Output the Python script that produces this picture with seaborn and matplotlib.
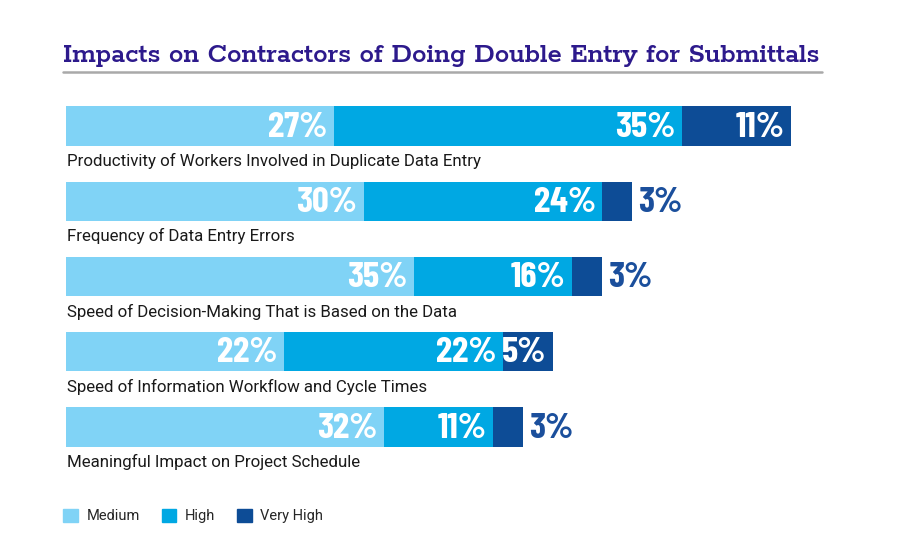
import matplotlib
matplotlib.use("Agg")
import matplotlib.pyplot as plt
from matplotlib.patches import Patch
from matplotlib.lines import Line2D
import seaborn as sns
import pandas as pd

categories = [
    "Productivity of Workers Involved in Duplicate Data Entry",
    "Frequency of Data Entry Errors",
    "Speed of Decision-Making That is Based on the Data",
    "Speed of Information Workflow and Cycle Times",
    "Meaningful Impact on Project Schedule",
]
medium = [27, 30, 35, 22, 32]
high = [35, 24, 16, 22, 11]
very_high = [11, 3, 3, 5, 3]
series_names = ["Medium", "High", "Very High"]
colors = ["#80d3f6", "#00a8e3", "#0d4c96"]
outside_color = "#1b4f9c"
title = "Impacts on Contractors of Doing Double Entry for Submittals"

sns.set_theme(style="white")
plt.rcParams["font.family"] = ["Roboto", "DejaVu Sans"]

num_family = ["Barlow Condensed", "Roboto Condensed", "DejaVu Sans"]
label_family = ["Roboto", "DejaVu Sans"]
title_family = ["Rokkitt", "DejaVu Serif"]

df = pd.DataFrame({
    "category": categories,
    "Medium": medium,
    "High": high,
    "Very High": very_high,
})
df["c1"] = df["Medium"]
df["c2"] = df["Medium"] + df["High"]
df["c3"] = df["c2"] + df["Very High"]

fig = plt.figure(figsize=(9, 5.5), dpi=100)
ax = fig.add_axes([66 / 900, 1 - 480 / 550, 834 / 900, (480 - 88) / 550])

for col, colr in zip(["c3", "c2", "c1"], colors[::-1]):
    sns.barplot(data=df, x=col, y="category", order=categories, orient="h",
                color=colr, width=0.52, saturation=1, errorbar=None,
                linewidth=0, ax=ax)

ax.set_xlim(0, 84)
ax.set_ylim(4.704, -0.505)
ax.axis("off")

pad = 0.65
for i, cat in enumerate(categories):
    ax.text(0.1, i + 0.465, cat, ha="left", va="center", fontsize=12.2,
            color="#1a1a1a", family=label_family)
    ends = [df.loc[i, "c1"], df.loc[i, "c2"], df.loc[i, "c3"]]
    vals = [medium[i], high[i], very_high[i]]
    for v, e in zip(vals, ends):
        if v >= 4:
            ax.text(e - pad, i + 0.02, f"{v}%", ha="right", va="center",
                    color="white", fontsize=26.5, weight="bold", family=num_family)
        else:
            ax.text(e + pad, i + 0.02, f"{v}%", ha="left", va="center",
                    color=outside_color, fontsize=26.5, weight="bold", family=num_family)

fig.text(63 / 900, 1 - 62 / 550, title, ha="left", va="baseline",
         fontsize=20.8, weight="semibold", color="#2d1a8c", family=title_family)
fig.add_artist(Line2D([63 / 900, 822 / 900], [1 - 72 / 550] * 2,
                      color="#a9a9a9", lw=1.8))

handles = [Patch(facecolor=c, edgecolor=c) for c in colors]
fig.legend(handles, series_names, loc="center left",
           bbox_to_anchor=(63 / 900, 1 - 516 / 550), ncol=3, frameon=False,
           fontsize=10.5, handlelength=1.0, handleheight=1.0,
           handletextpad=0.6, columnspacing=1.5, borderaxespad=0, borderpad=0)

fig.savefig("out.png", dpi=100)
